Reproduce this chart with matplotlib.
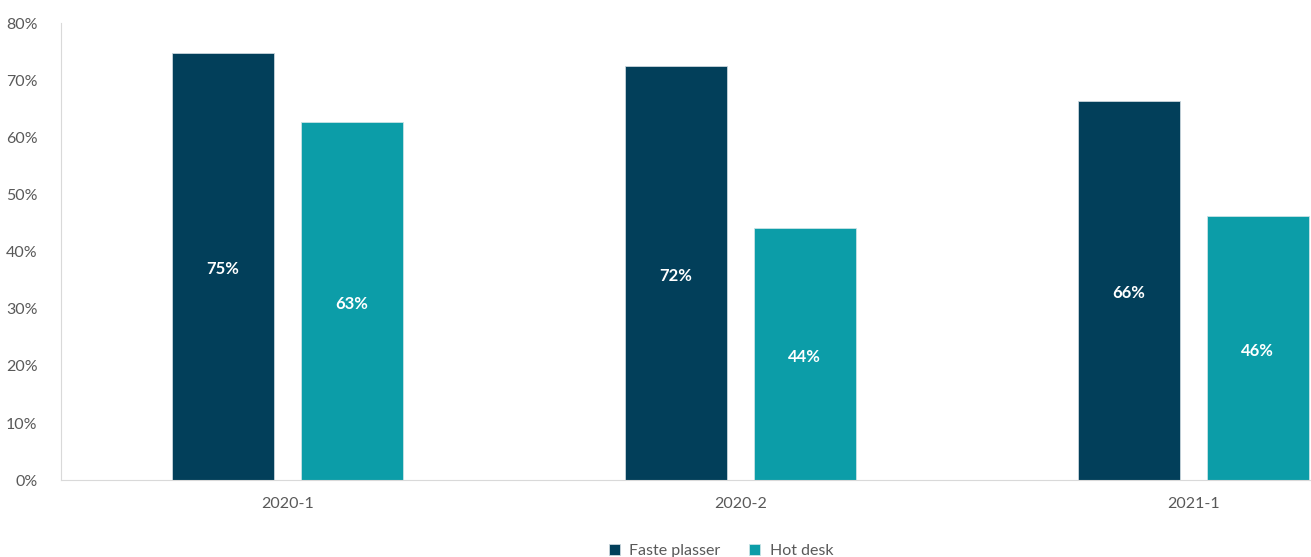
import matplotlib
matplotlib.use("Agg")
import matplotlib.pyplot as plt
import numpy as np

plt.rcParams['font.family'] = ['Lato', 'DejaVu Sans']

# data
periods = ['2020-1', '2020-2', '2021-1']
faste = [74.8, 72.5, 66.4]
hotdesk = [62.7, 44.1, 46.2]
faste_labels = ['75%', '72%', '66%']
hot_labels = ['63%', '44%', '46%']

dark = '#023F5A'
teal = '#0C9DA8'
grey = '#595959'

fig = plt.figure(figsize=(13.11, 5.57), dpi=100)
ax = fig.add_axes([0.0465, 0.138, 0.9535, 0.8205])

x = np.arange(len(periods))
w = 0.225
off = 0.142
b1 = ax.bar(x - off, faste, w, color=dark, edgecolor='#c9d6dc', linewidth=0.6, label='Faste plasser')
b2 = ax.bar(x + off, hotdesk, w, color=teal, edgecolor='#c9e3e6', linewidth=0.6, label='Hot desk')

for bars, labs in [(b1, faste_labels), (b2, hot_labels)]:
    for b, lab in zip(bars, labs):
        ax.text(b.get_x() + b.get_width() / 2, b.get_height() / 2 - 0.5, lab,
                ha='center', va='center', color='white', fontsize=12, fontweight='bold')

ax.set_ylim(0, 80)
ax.set_xlim(-0.5, 2.26)
ax.set_yticks(range(0, 81, 10))
ax.set_yticklabels([f'{v}%' for v in range(0, 81, 10)])
ax.set_xticks(x)
ax.set_xticklabels(periods)
ax.tick_params(length=0, labelsize=11.5, labelcolor=grey)
ax.tick_params(axis='y', pad=17)
ax.tick_params(axis='x', pad=12)

for s in ['top', 'right']:
    ax.spines[s].set_visible(False)
ax.spines['left'].set_color('#d9d9d9')
ax.spines['bottom'].set_color('#d9d9d9')

fig.legend(loc='lower center', bbox_to_anchor=(0.55, -0.028), ncol=2, frameon=False,
           fontsize=11.5, labelcolor=grey, handlelength=0.7, handleheight=0.7,
           handletextpad=0.6, columnspacing=1.8)

fig.savefig('out.png', dpi=100)
